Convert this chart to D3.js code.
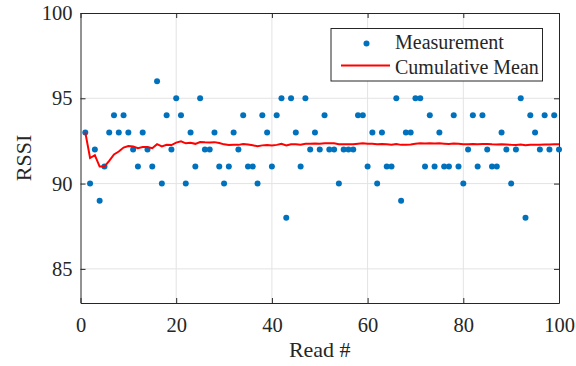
<!DOCTYPE html>
<html>
<head>
<meta charset="utf-8">
<script src="https://cdn.jsdelivr.net/npm/d3@7"></script>
<style>
  body { margin: 0; background: #fff; }
  text { font-family: "Liberation Serif", "Times New Roman", serif; fill: #262626; }
</style>
</head>
<body>
<div id="chart"></div>
<script>
//// data
var reads = d3.range(1, 101);
var rssi = [93, 90, 92, 89, 91, 93, 94, 93, 94, 93,
            92, 91, 93, 92, 91, 96, 90, 94, 92, 95,
            94, 90, 93, 91, 95, 92, 92, 93, 91, 90,
            91, 93, 92, 94, 91, 91, 90, 94, 93, 91,
            94, 95, 88, 95, 93, 91, 95, 92, 93, 92,
            94, 92, 92, 90, 92, 92, 92, 94, 94, 91,
            93, 90, 93, 91, 91, 95, 89, 93, 93, 95,
            95, 91, 94, 91, 93, 91, 91, 94, 91, 90,
            92, 94, 91, 94, 92, 91, 91, 93, 92, 90,
            92, 95, 88, 94, 93, 92, 94, 92, 94, 92];
var cumMean = [93.00, 91.50, 91.67, 91.00, 91.00, 91.33, 91.71, 91.88, 92.11, 92.20,
               92.18, 92.08, 92.15, 92.14, 92.07, 92.31, 92.18, 92.28, 92.26, 92.40,
               92.48, 92.36, 92.39, 92.33, 92.44, 92.42, 92.41, 92.43, 92.38, 92.30,
               92.26, 92.28, 92.27, 92.32, 92.29, 92.25, 92.19, 92.24, 92.26, 92.23,
               92.27, 92.33, 92.23, 92.30, 92.31, 92.28, 92.34, 92.33, 92.35, 92.34,
               92.37, 92.37, 92.36, 92.31, 92.31, 92.30, 92.30, 92.33, 92.36, 92.33,
               92.34, 92.31, 92.32, 92.30, 92.28, 92.32, 92.27, 92.28, 92.29, 92.33,
               92.37, 92.35, 92.37, 92.35, 92.36, 92.34, 92.32, 92.35, 92.33, 92.30,
               92.30, 92.32, 92.30, 92.32, 92.32, 92.30, 92.29, 92.30, 92.29, 92.27,
               92.26, 92.29, 92.25, 92.27, 92.27, 92.27, 92.29, 92.29, 92.30, 92.30];
var xTicks = [0, 20, 40, 60, 80, 100];
var yTicks = [85, 90, 95, 100];
var legendLabels = ["Measurement", "Cumulative Mean"];

//// chart
var width = 576, height = 366;
var plot = {left: 80.5, right: 559, top: 13, bottom: 303};
var axisColor = "#262626";

var svg = d3.select("#chart")
  .append("svg")
    .attr("width", width)
    .attr("height", height);

var xScale = d3.scaleLinear()
  .domain([0, 100])
  .range([plot.left, plot.right]);

var yScale = d3.scaleLinear()
  .domain([83, 100])
  .range([plot.bottom, plot.top]);

// grid
svg.append("g")
  .selectAll("line")
  .data(xTicks.slice(1, -1))
  .enter().append("line")
    .attr("x1", d => xScale(d)).attr("x2", d => xScale(d))
    .attr("y1", plot.top).attr("y2", plot.bottom)
    .attr("stroke", "#e3e3e3").attr("stroke-width", 1);

svg.append("g")
  .selectAll("line")
  .data(yTicks.slice(0, -1))
  .enter().append("line")
    .attr("x1", plot.left).attr("x2", plot.right)
    .attr("y1", d => yScale(d)).attr("y2", d => yScale(d))
    .attr("stroke", "#e3e3e3").attr("stroke-width", 1);

//// axes (ticks point inward, box all round)
function styleAxis(g, showLabels) {
  g.select(".domain").attr("stroke", axisColor).attr("stroke-width", 1);
  g.selectAll(".tick line").attr("stroke", axisColor);
  g.selectAll(".tick text")
    .style("font-family", "'Liberation Serif', 'Times New Roman', serif")
    .style("font-size", "20.5px")
    .attr("fill", axisColor)
    .attr("opacity", showLabels ? 1 : 0);
}

svg.append("g")
  .attr("transform", "translate(0," + plot.bottom + ")")
  .call(d3.axisBottom(xScale).tickValues(xTicks).tickSizeInner(-5).tickSizeOuter(0).tickPadding(14))
  .call(g => styleAxis(g, true));

svg.append("g")
  .attr("transform", "translate(0," + plot.top + ")")
  .call(d3.axisTop(xScale).tickValues(xTicks).tickSizeInner(-5).tickSizeOuter(0))
  .call(g => styleAxis(g, false));

svg.append("g")
  .attr("transform", "translate(" + plot.left + ",0)")
  .call(d3.axisLeft(yScale).tickValues(yTicks).tickSizeInner(-5).tickSizeOuter(0).tickPadding(8))
  .call(g => styleAxis(g, true));

svg.append("g")
  .attr("transform", "translate(" + plot.right + ",0)")
  .call(d3.axisRight(yScale).tickValues(yTicks).tickSizeInner(-5).tickSizeOuter(0))
  .call(g => styleAxis(g, false));

// axis titles
svg.append("text")
  .attr("x", (plot.left + plot.right) / 2)
  .attr("y", 357)
  .attr("text-anchor", "middle")
  .style("font-size", "22px")
  .text("Read #");

svg.append("text")
  .attr("transform", "translate(30.5," + ((plot.top + plot.bottom) / 2) + ") rotate(-90)")
  .attr("text-anchor", "middle")
  .style("font-size", "22px")
  .text("RSSI");

//// dots
svg.selectAll(".dots")
  .data(rssi)
  .enter()
  .append("circle")
    .attr("class", "dots")
    .attr("r", 3)
    .attr("fill", "#0072BD")
    .attr("cx", (d, i) => xScale(reads[i]))
    .attr("cy", d => yScale(d));

//// cumulative mean line
var line = d3.line()
  .x((d, i) => xScale(reads[i]))
  .y(d => yScale(d));

svg.append("path")
  .datum(cumMean)
  .attr("fill", "none")
  .attr("stroke", "#FF0000")
  .attr("stroke-width", 2)
  .attr("d", line);

//// legend
var legend = svg.append("g");
legend.append("rect")
  .attr("x", 331).attr("y", 28.5)
  .attr("width", 211.5).attr("height", 52.5)
  .attr("fill", "#fff")
  .attr("stroke", axisColor)
  .attr("stroke-width", 1);

legend.append("circle")
  .attr("cx", 366.5).attr("cy", 43.5)
  .attr("r", 3)
  .attr("fill", "#0072BD");

legend.append("line")
  .attr("x1", 341).attr("x2", 390)
  .attr("y1", 65.5).attr("y2", 65.5)
  .attr("stroke", "#FF0000")
  .attr("stroke-width", 2);

legend.selectAll(".leg")
  .data(legendLabels)
  .enter().append("text")
    .attr("class", "leg")
    .attr("x", 395)
    .attr("y", (d, i) => 49 + i * 24.5)
    .style("font-size", "20px")
    .text(d => d);
</script>
</body>
</html>
